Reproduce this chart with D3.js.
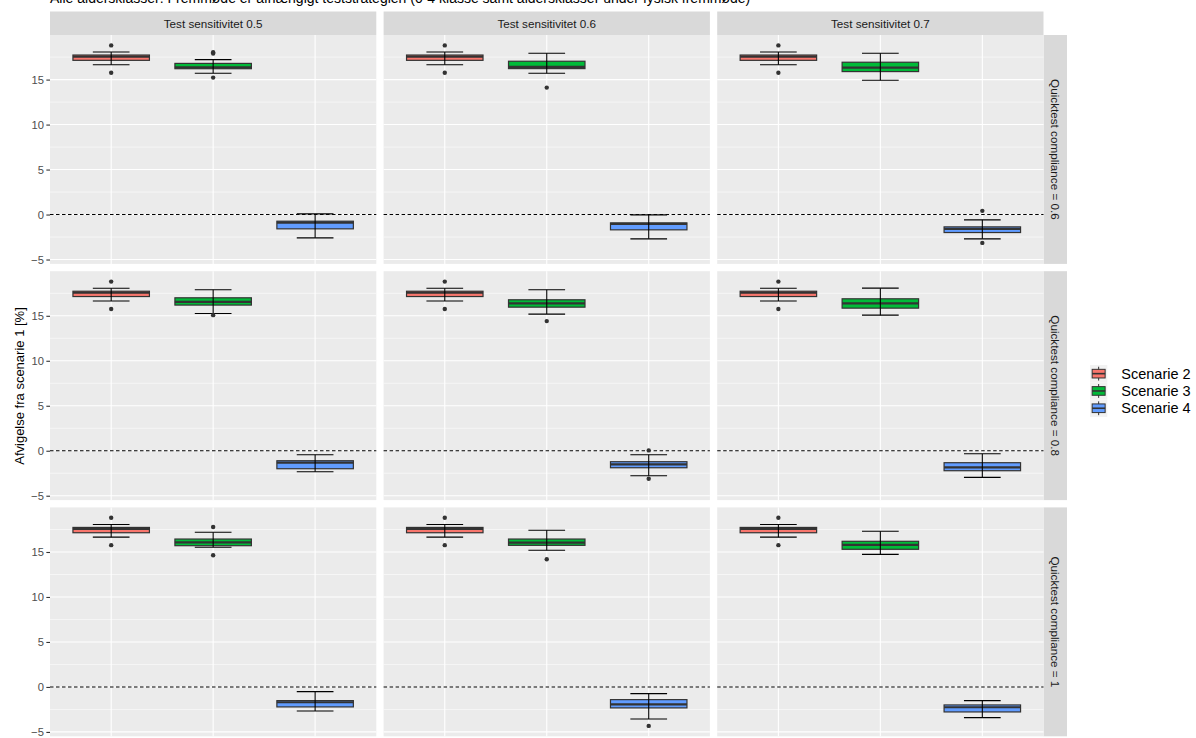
<!DOCTYPE html>
<html>
<head>
<meta charset="utf-8">
<script src="https://cdn.jsdelivr.net/npm/d3@7"></script>
<style>
  body { margin: 0; background: #ffffff; }
  svg { display: block; font-family: "Liberation Sans", Arial, sans-serif; }
</style>
</head>
<body>
<svg id="chart" width="1196" height="738"></svg>
<script>
// ---- data ----------------------------------------------------------------
const scenarios = ["Scenarie 2", "Scenarie 3", "Scenarie 4"];
const scenarioColors = ["#F8766D", "#00BA38", "#619CFF"];
const sensitivityLabels = ["Test sensitivitet 0.5", "Test sensitivitet 0.6", "Test sensitivitet 0.7"];
const complianceLabels = ["Quicktest compliance = 0.6", "Quicktest compliance = 0.8", "Quicktest compliance = 1"];
const yTicks = [-5, 0, 5, 10, 15];
const yMinorTicks = [-2.5, 2.5, 7.5, 12.5, 17.5];
const titleText = "Alle aldersklasser: Fremmøde er afhængigt teststrategien (0-4 klasse samt aldersklasser under fysisk fremmøde)";
const yTitle = "Afvigelse fra scenarie 1 [%]";

// box statistics per panel, row-major (compliance rows x sensitivity columns):
// [lower whisker, Q1, median, Q3, upper whisker]
const scenarie2Box = [
  [16.65, 17.14, 17.56, 17.73, 18.06], [16.65, 17.14, 17.56, 17.73, 18.06], [16.65, 17.14, 17.56, 17.73, 18.06],
  [16.65, 17.14, 17.56, 17.73, 18.06], [16.65, 17.14, 17.56, 17.73, 18.06], [16.65, 17.14, 17.56, 17.73, 18.06],
  [16.65, 17.14, 17.56, 17.73, 18.06], [16.65, 17.14, 17.56, 17.73, 18.06], [16.65, 17.14, 17.56, 17.73, 18.06]
];
const scenarie3Box = [
  [15.70, 16.21, 16.37, 16.80, 17.22], [15.70, 16.22, 16.42, 17.04, 17.93], [14.93, 15.89, 16.33, 16.93, 17.93],
  [15.26, 16.19, 16.55, 17.00, 17.89], [15.19, 15.96, 16.37, 16.78, 17.89], [15.07, 15.85, 16.37, 16.89, 18.07],
  [15.52, 15.70, 16.07, 16.44, 17.19], [15.19, 15.74, 16.04, 16.44, 17.41], [14.74, 15.30, 15.78, 16.19, 17.30]
];
const scenarie4Box = [
  [-2.59, -1.59, -0.89, -0.74, 0.07], [-2.70, -1.70, -1.04, -0.93, -0.04], [-2.70, -2.00, -1.59, -1.37, -0.59],
  [-2.33, -2.00, -1.33, -1.11, -0.44], [-2.78, -1.89, -1.52, -1.22, -0.44], [-2.96, -2.22, -1.85, -1.33, -0.33],
  [-2.67, -2.22, -1.70, -1.52, -0.52], [-3.56, -2.33, -1.93, -1.41, -0.74], [-3.41, -2.78, -2.26, -2.00, -1.52]
];
const scenarie2Outliers = [
  [15.76, 18.80], [15.76, 18.80], [15.76, 18.80],
  [15.76, 18.80], [15.76, 18.80], [15.76, 18.80],
  [15.76, 18.80], [15.76, 18.80], [15.76, 18.80]
];
const scenarie3Outliers = [
  [15.22, 17.90, 18.04], [14.11], [],
  [15.07], [14.41], [],
  [14.63, 17.78], [14.19], []
];
const scenarie4Outliers = [
  [], [], [-3.15, 0.41],
  [], [-3.11, 0.04], [],
  [], [-4.33], []
];

const boxStats = [scenarie2Box, scenarie3Box, scenarie4Box];
const outlierSets = [scenarie2Outliers, scenarie3Outliers, scenarie4Outliers];

// ---- layout ----------------------------------------------------------------
const svg = d3.select("#chart");
svg.append("rect").attr("width", 1196).attr("height", 738).attr("fill", "#ffffff");

const panelLeft = 50, panelTop = 35;
const panelW = 326.3, panelH = 228.9, gap = 7.3;
const stripH = 23.5, stripW = 23.5;

// shared y range (ggplot style 5% expansion of all values)
const allValues = [];
boxStats.forEach(s => s.forEach(p => allValues.push(...p)));
outlierSets.forEach(s => s.forEach(p => allValues.push(...p)));
const [vMin, vMax] = d3.extent(allValues);
const pad = (vMax - vMin) * 0.05;
const y = d3.scaleLinear().domain([vMin - pad, vMax + pad]).range([panelH, 0]);
// discrete x with 0.6 expansion
const x = d3.scaleLinear().domain([0.4, scenarios.length + 0.6]).range([0, panelW]);
const boxHalf = 0.375, capHalf = 0.18;

// title (sits at the top edge)
svg.append("text").attr("x", 50).attr("y", 3).attr("font-size", 14).attr("fill", "#000")
  .text(titleText);

// column strips
sensitivityLabels.forEach((lab, c) => {
  const gx = panelLeft + c * (panelW + gap);
  svg.append("rect").attr("x", gx).attr("y", panelTop - stripH).attr("width", panelW).attr("height", stripH)
    .attr("fill", "#D9D9D9");
  svg.append("text").attr("x", gx + panelW / 2).attr("y", panelTop - stripH / 2)
    .attr("text-anchor", "middle").attr("dominant-baseline", "central")
    .attr("font-size", 11.7).attr("fill", "#1A1A1A").text(lab);
});

// row strips
complianceLabels.forEach((lab, r) => {
  const gy = panelTop + r * (panelH + gap);
  const sx = panelLeft + 3 * panelW + 2 * gap;
  svg.append("rect").attr("x", sx).attr("y", gy).attr("width", stripW).attr("height", panelH)
    .attr("fill", "#D9D9D9");
  svg.append("text")
    .attr("transform", `translate(${sx + stripW / 2},${gy + panelH / 2}) rotate(90)`)
    .attr("text-anchor", "middle").attr("dominant-baseline", "central")
    .attr("font-size", 11.7).attr("fill", "#1A1A1A").text(lab);
});

// panels
for (let r = 0; r < 3; r++) {
  for (let c = 0; c < 3; c++) {
    const idx = r * 3 + c;
    const g = svg.append("g")
      .attr("transform", `translate(${panelLeft + c * (panelW + gap)},${panelTop + r * (panelH + gap)})`);
    g.append("rect").attr("width", panelW).attr("height", panelH).attr("fill", "#EBEBEB");

    g.selectAll(".minor").data(yMinorTicks.filter(v => v > y.domain()[0] && v < y.domain()[1]))
      .join("line").attr("x1", 0).attr("x2", panelW)
      .attr("y1", d => y(d)).attr("y2", d => y(d))
      .attr("stroke", "#ffffff").attr("stroke-width", 0.55);
    g.selectAll(".major").data(yTicks)
      .join("line").attr("x1", 0).attr("x2", panelW)
      .attr("y1", d => y(d)).attr("y2", d => y(d))
      .attr("stroke", "#ffffff").attr("stroke-width", 1.1);
    g.selectAll(".vmajor").data(scenarios)
      .join("line").attr("y1", 0).attr("y2", panelH)
      .attr("x1", (d, i) => x(i + 1)).attr("x2", (d, i) => x(i + 1))
      .attr("stroke", "#ffffff").attr("stroke-width", 1.1);

    // reference line at zero
    g.append("line").attr("x1", 0).attr("x2", panelW).attr("y1", y(0)).attr("y2", y(0))
      .attr("stroke", "#000").attr("stroke-width", 1.1).attr("stroke-dasharray", "3.5,2.5");

    scenarios.forEach((s, i) => {
      const [lo, q1, med, q3, hi] = boxStats[i][idx];
      const cx = x(i + 1);
      const bx0 = x(i + 1 - boxHalf), bx1 = x(i + 1 + boxHalf);
      g.append("rect").attr("x", bx0).attr("y", y(q3))
        .attr("width", bx1 - bx0).attr("height", y(q1) - y(q3))
        .attr("fill", scenarioColors[i]).attr("stroke", "#333333").attr("stroke-width", 1.2);
      g.append("line").attr("x1", bx0).attr("x2", bx1).attr("y1", y(med)).attr("y2", y(med))
        .attr("stroke", "#333333").attr("stroke-width", 2.2);

      // whiskers drawn as error bars with caps
      const cx0 = x(i + 1 - capHalf), cx1 = x(i + 1 + capHalf);
      g.append("line").attr("x1", cx).attr("x2", cx).attr("y1", y(lo)).attr("y2", y(hi))
        .attr("stroke", "#000").attr("stroke-width", 1.1);
      [lo, hi].forEach(v => g.append("line").attr("x1", cx0).attr("x2", cx1)
        .attr("y1", y(v)).attr("y2", y(v)).attr("stroke", "#000").attr("stroke-width", 1.1));

      g.selectAll(null).data(outlierSets[i][idx]).join("circle")
        .attr("cx", cx).attr("cy", d => y(d)).attr("r", 2.2).attr("fill", "#333333");
    });

    // y axis on the first column
    if (c === 0) {
      const ax = g.append("g").call(d3.axisLeft(y).tickValues(yTicks).tickSize(3.65).tickPadding(2.5));
      ax.select(".domain").remove();
      ax.selectAll(".tick line").attr("stroke", "#333333").attr("stroke-width", 1.1);
      ax.selectAll(".tick text").attr("fill", "#4D4D4D").attr("font-size", 11.2)
        .attr("font-family", "'Liberation Sans', Arial, sans-serif");
    }
  }
}

// y axis title
svg.append("text")
  .attr("transform", `translate(19,386) rotate(-90)`)
  .attr("text-anchor", "middle").attr("dominant-baseline", "central")
  .attr("font-size", 13).attr("fill", "#000").text(yTitle);

// legend
const keySize = 17.3, legX = 1090, legY = 365;
const legend = svg.append("g").attr("transform", `translate(${legX},${legY})`);
scenarios.forEach((s, i) => {
  const k = legend.append("g").attr("transform", `translate(0,${i * keySize})`);
  k.append("rect").attr("width", keySize).attr("height", keySize).attr("fill", "#F2F2F2");
  k.append("line").attr("x1", keySize / 2).attr("x2", keySize / 2)
    .attr("y1", keySize * 0.1).attr("y2", keySize * 0.9)
    .attr("stroke", "#333333").attr("stroke-width", 1);
  k.append("rect").attr("x", keySize * 0.125).attr("y", keySize * 0.25)
    .attr("width", keySize * 0.75).attr("height", keySize * 0.5)
    .attr("fill", scenarioColors[i]).attr("stroke", "#333333").attr("stroke-width", 1);
  k.append("line").attr("x1", keySize * 0.125).attr("x2", keySize * 0.875)
    .attr("y1", keySize / 2).attr("y2", keySize / 2)
    .attr("stroke", "#333333").attr("stroke-width", 1.6);
  k.append("text").attr("x", keySize + 14).attr("y", keySize / 2)
    .attr("dominant-baseline", "central").attr("font-size", 14.5).attr("fill", "#000").text(s);
});
</script>
</body>
</html>
